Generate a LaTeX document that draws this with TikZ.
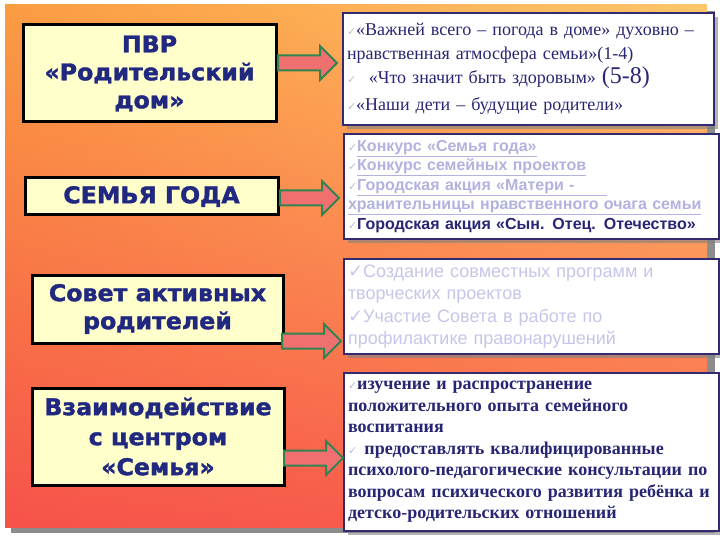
\documentclass[tikz,border=0pt]{standalone}
\usepackage{fontspec}
\setmainfont{Liberation Serif}
\setsansfont{Liberation Sans}
\newfontfamily\headfont[FakeStretch=1.03, FakeBold=1.6]{DejaVu Sans}
\newfontfamily\symfont{DejaVu Sans}
\usetikzlibrary{shadows, shadings}
\definecolor{bgtopleft}{RGB}{251,156,66}
\definecolor{bgtopright}{RGB}{255,198,106}
\definecolor{bgbottomleft}{RGB}{246,82,74}
\definecolor{bgbottomright}{RGB}{250,98,76}
\definecolor{boxyellow}{RGB}{255,255,204}
\definecolor{titleblue}{RGB}{32,40,128}
\definecolor{textnavy}{RGB}{40,38,116}
\definecolor{framenavy}{RGB}{52,42,112}
\definecolor{arrowred}{RGB}{240,112,112}
\definecolor{arrowgreen}{RGB}{48,132,82}
\definecolor{linkgray}{RGB}{178,178,224}
\definecolor{palegray}{RGB}{198,198,234}
\definecolor{checkgray}{RGB}{190,190,208}
\newcommand{\chk}{{\symfont\color{checkgray}\fontsize{11}{11}\selectfont ✓}}
\tikzset{
    leftbox/.style={
        rectangle, draw=black, line width=3pt, fill=boxyellow, text=titleblue,
        align=center, inner sep=0pt,
        font=\headfont\bfseries\fontsize{23}{28}\selectfont
    },
    rightbox/.style={
        rectangle, draw=framenavy, line width=2pt, fill=white, text=textnavy,
        align=left, inner xsep=4pt, inner ysep=2pt, anchor=north west,
        drop shadow={shadow xshift=4pt, shadow yshift=-4pt, fill=black!50, opacity=0.6}
    },
    blockarrow/.style={
        draw=arrowgreen, line width=2pt, fill=arrowred, line join=miter
    }
}

\begin{document}
\begin{tikzpicture}[x=1pt, y=-1pt]
\useasboundingbox (0,0) rectangle (720,540);

% Background
\fill[black!45] (11,11) rectangle (715,533);
\shade[upper left=bgtopleft, upper right=bgtopright, lower left=bgbottomleft, lower right=bgbottomright]
    (5,5) rectangle (707,527);

% Left boxes
\node[leftbox, minimum width=253, minimum height=97] (pvr) at (149.5,73.5) {ПВР\\«Родительский\\дом»};
\node[leftbox, minimum width=253, minimum height=37] (semya) at (151.5,196.5) {СЕМЬЯ ГОДА};
\node[leftbox, minimum width=251, minimum height=68] (sovet) at (157.5,309) {Совет активных\\родителей};
\node[leftbox, minimum width=252, minimum height=97, font=\headfont\bfseries\fontsize{23}{30}\selectfont] (centr) at (158,436.5) {Взаимодействие\\с центром\\«Семья»};

% Right boxes
\node[rightbox, text width=363, minimum height=112, font=\fontsize{18}{24}\selectfont] (pvrtext) at (342,12) {%
\chk«Важней всего – погода в доме» духовно –\\
нравственная атмосфера семьи»(1-4)\\
\chk\hspace{0.7em}«Что значит быть здоровым» {\fontsize{24}{24}\selectfont(5-8)}\\[3pt]
\chk«Наши дети – будущие родители»};
\node[rightbox, text width=367, minimum height=105, font=\sffamily\bfseries\fontsize{16}{19.5}\selectfont] (semyatext) at (343,133) {%
\chk\textcolor{linkgray}{\underline{Конкурс «Семья года»}}\\
\chk\textcolor{linkgray}{\underline{Конкурс семейных проектов}}\\
\chk\textcolor{linkgray}{\underline{Городская акция «Матери -\hspace{2em}}}\\
\textcolor{linkgray}{\underline{хранительницы нравственного очага семьи}}\\
\chk Городская акция «Сын. Отец. Отечество»};
\node[rightbox, text width=367, minimum height=95, text=palegray, font=\sffamily\fontsize{18}{22.5}\selectfont] (sovettext) at (343,258) {%
{\symfont ✓}Создание совместных программ и\\
творческих проектов\\
{\symfont ✓}Участие Совета в работе по\\
профилактике правонарушений};
\node[rightbox, text width=367, minimum height=158, font=\bfseries\fontsize{18}{21.5}\selectfont] (centrtext) at (343,372) {%
\chk изучение и распространение\\
положительного опыта семейного\\
воспитания\\
\chk\hspace{0.4em}предоставлять квалифицированные\\
психолого-педагогические консультации по\\
вопросам психического развития ребёнка и\\
детско-родительских отношений};

% Arrows
\foreach \ax/\ay [count=\i] in {278/63, 280/198, 282/341, 284/458}
    \filldraw[blockarrow] (\ax,\ay-7.5) -- ++(42,0) -- ++(0,-9.5) -- ++(17,17)
        -- ++(-17,17) -- ++(0,-9.5) -- ++(-42,0) -- cycle;

\end{tikzpicture}
\end{document}
